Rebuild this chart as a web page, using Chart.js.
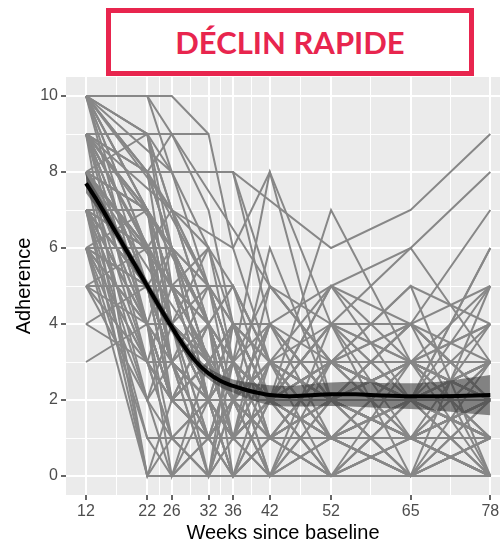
<!DOCTYPE html>
<html>
<head>
<meta charset="utf-8">
<script src="https://cdn.jsdelivr.net/npm/chart.js@4"></script>
<style>
  body { margin: 0; background: #fff; }
  #wrap { position: relative; width: 500px; height: 543px; }
  #banner {
    position: absolute; left: 106px; top: 8px; width: 358px; height: 58px;
    border: 5px solid #e8254e; color: #e8254e;
    font-family: Lato, sans-serif; font-weight: bold; font-size: 31px;
    display: flex; align-items: center; justify-content: center; background: #fff;
  }
</style>
</head>
<body>
<div id="wrap">
  <canvas id="chart" width="500" height="543"></canvas>
  <div id="banner">DÉCLIN RAPIDE</div>
</div>
<script>
// visit weeks and axis breaks
const weeks = [12, 22, 26, 32, 36, 42, 52, 65, 78];
const xMajorTicks = [12, 22, 26, 32, 36, 42, 52, 65, 78];
const xMinorTicks = [17, 24, 29, 34, 39, 47, 58.5, 71.5];
const yMajorTicks = [0, 2, 4, 6, 8, 10];
const yMinorTicks = [1, 3, 5, 7, 9];

// one row per participant, values at each visit week (null = missed visit)
const subjectValues = [
  [10, null, 10, 9, null, null, null, null, null],
  [10, 8, null, 5, 3, 2, 2, 1, 0],
  [10, 6, 4, 3, 2, 3, 2, 2, 1],
  [10, null, 8, 8, 8, 4, 2, null, null],
  [10, 10, null, null, 3, 2, 1, 0, 0],
  [9, 7, 5, 4, 2, 2, 3, 2, 2],
  [9, 9, null, 9, 6, 3, 2, 1, 1],
  [9, 5, 3, 2, 1, 2, 0, 1, 0],
  [9, 8, 9, null, null, 5, 3, 2, 3],
  [9, 6, 6, 2, 4, 2, 2, 3, 2],
  [9, 4, 2, 1, 0, 0, 1, 0, 0],
  [8, 8, 8, null, 8, 5, 4, 4, 2],
  [8, 6, 4, 3, 2, 1, 2, 2, 3],
  [8, 5, 3, 0, 2, 1, 0, 0, 0],
  [8, 7, 5, 3, 3, 2, 2, 2, 2],
  [8, 3, 2, 2, 1, 3, 1, 2, 1],
  [8, 0, 0, 0, 0, 0, 0, 0, 0],
  [8, 6, 5, 4, 3, 2, 3, 1, 2],
  [8, 4, 6, 2, 3, 4, 2, 3, 4],
  [8, 7, 4, 5, 2, 3, 2, 1, 1],
  [7, 5, 4, 2, 2, 1, 2, 2, 1],
  [7, 4, 3, 1, 2, 3, 3, 2, 2],
  [7, 6, 3, 2, 3, 2, 1, 1, 2],
  [7, 1, 1, 1, 1, 1, 1, 1, 1],
  [7, 5, 2, 4, 1, 2, 4, 3, 2],
  [7, 3, 5, 3, 2, 0, 2, 0, 0],
  [7, 7, 6, 4, 5, 3, 2, 4, 3],
  [6, 4, 2, 3, 1, 2, 2, 1, 2],
  [6, 0, 2, 1, 0, 1, 0, 2, 0],
  [6, 5, 4, 3, 4, 2, 3, 2, 5],
  [6, 3, 3, 2, 2, 4, 1, 3, 1],
  [6, 2, 1, 0, 1, 0, 1, 0, 1],
  [5, 4, 2, 2, 3, 2, 2, 4, 2],
  [5, 5, 3, 1, 2, 3, 0, 1, 0],
  [5, 3, 1, 2, 0, 1, 2, 1, 3],
  [4, 5, 3, 2, 2, 1, 2, 2, 2],
  [3, 4, 2, 3, 1, 2, 1, 2, 1],
  [9, null, 7, null, 6, 8, 2, null, null],
  [8, null, null, null, 8, null, 6, 7, 9],
  [10, 8, 7, 5, 3, 8, 4, 2, 1],
  [9, 6, 4, 2, 1, 2, 7, 3, 1],
  [7, 5, 3, 2, 3, 2, 4, 6, 8],
  [8, 4, 2, 3, 2, 1, 3, 4, 7],
  [6, 3, 2, 2, 1, 2, 1, 2, 6],
  [9, 7, 4, 3, 4, 3, 5, 3, 5],
  [10, 9, 6, 4, 3, 2, 5, 6, 3],
  [7, 6, 4, 3, 2, 6, 2, 1, 0],
  [8, 5, 4, 6, 3, 2, 3, 5, 4],
  [9, 5, 3, 4, 5, 2, 2, 3, 2],
  [5, 2, 0, 1, 2, 3, 1, 0, 1],
  [10, 7, 5, 4, 2, 3, 2, 3, 2],
  [6, 6, 4, 2, 4, 3, 2, 2, 3],
  [9, 8, 6, 5, 3, 2, 1, 2, 2],
  [8, 6, 3, 5, 4, 3, 2, 0, 2],
  [7, 4, 4, 0, 1, 2, 3, 2, 1],
  [10, 5, 2, 1, 2, 0, 0, 1, 0],
  [7, 2, 3, 2, 0, 1, 0, 0, 1],
  [6, 5, 6, 4, 3, 5, 3, 4, 2],
  [9, 6, 5, 6, 4, 2, 1, 3, 3],
  [8, 7, 6, 3, 2, 4, 2, 2, 1],
  [5, 5, 5, 5, 5, 3, 2, 1, 2],
  [9, 0, 1, 0, 2, 0, 1, 0, 0],
  [7, 0, 0, 1, 0, 2, 0, 1, 0],
  [8, 6, 5, null, null, null, null, null, null],
  [10, 9, 7, 6, null, null, null, null, null],
  [9, 3, 2, 4, 0, 1, 3, 5, 0],
  [8, 2, 4, 1, 3, 0, 4, 0, 5],
  [10, 4, 0, 3, 1, 4, 5, 4, 0],
  [7, 3, 1, 0, 4, 1, 0, 3, 4],
  [6, 1, 0, 2, 1, 5, 3, 1, 0],
  [10, null, 7, 5, 4, 3, 2, 2, 1],
  [10, null, null, 4, 2, 3, 1, 2, 0],
  [9, null, 6, 3, 2, 1, 3, 2, 2],
  [9, null, null, null, 2, 4, 2, 3, 1],
  [8, null, 5, 2, 1, 2, 1, 0, 1],
  [8, null, null, 3, 4, 2, 2, 1, 2],
  [10, 9, 5, 2, 3, 2, 4, 2, 3],
  [9, 8, 4, 3, 1, 3, 2, 4, 2],
  [8, 7, 3, 1, 2, 2, 3, 1, 1],
  [7, 6, 5, 2, 0, 3, 2, 2, 4],
  [10, 8, 6, 3, 4, 1, 2, 3, 2],
  [9, 7, 6, 4, 2, 3, 4, 1, 3],
  [8, 8, 6, 5, 4, 4, 3, 3, 2],
  [7, 5, 5, 3, 3, 1, 0, 2, 1],
  [6, 4, 3, 4, 2, 2, 1, 2, 3],
  [9, 4, 1, 2, 3, 2, 1, 1, 0],
  [10, 6, 3, 2, 0, 2, 2, 0, 2],
  [8, 5, 2, 3, 1, 0, 3, 2, 0],
  [7, 6, 2, 1, 3, 2, 5, 2, 1],
  [9, 9, 8, 6, 5, 3, 3, 2, 1],
  [10, 10, 9, 7, 4, 2, 1, 1, 2],
  [6, 7, 5, 4, 2, 3, 2, 0, 3],
  [5, 6, 4, 3, 1, 2, 3, 3, 2],
  [4, 3, 2, 1, 2, 1, 2, 1, 2],
  [8, 6, 7, 4, 3, 1, 2, 4, 5],
  [9, 5, 4, 2, 2, 3, 3, 2, 6],
  [7, 4, 2, 2, 1, 4, 2, 3, 3],
  [10, 7, 4, 1, 1, 2, 0, 2, 1],
  [8, 9, 7, 4, 2, 2, 4, 3, 0],
  [6, 5, 3, 0, 3, 0, 2, 1, 4]
];

// loess fit and its confidence band
const smoothWeeks = [12, 14, 16, 18, 20, 22, 24, 26, 28, 30, 32, 34, 36, 38, 40, 42, 45, 48, 52, 56, 60, 65, 70, 74, 78];
const smoothFit = [7.7, 7.2, 6.65, 6.1, 5.55, 5.0, 4.45, 3.92, 3.42, 3.0, 2.7, 2.5, 2.37, 2.27, 2.19, 2.13, 2.1, 2.12, 2.15, 2.15, 2.12, 2.1, 2.1, 2.11, 2.13];
const smoothLow = [7.45, 7.0, 6.48, 5.95, 5.4, 4.85, 4.3, 3.77, 3.27, 2.85, 2.55, 2.33, 2.2, 2.06, 1.95, 1.87, 1.83, 1.83, 1.84, 1.82, 1.79, 1.76, 1.71, 1.65, 1.6];
const smoothHigh = [7.95, 7.4, 6.82, 6.25, 5.7, 5.15, 4.6, 4.07, 3.57, 3.15, 2.85, 2.67, 2.54, 2.48, 2.43, 2.39, 2.37, 2.41, 2.46, 2.48, 2.45, 2.44, 2.49, 2.57, 2.66];

function toPoints(xs, ys) {
    return xs.map((x, i) => ({ x: x, y: ys[i] }));
}

const datasets = [
    {
        data: toPoints(smoothWeeks, smoothFit),
        borderColor: '#000', borderWidth: 4, pointRadius: 0,
        cubicInterpolationMode: 'monotone', order: -3
    },
    {
        data: toPoints(smoothWeeks, smoothHigh),
        borderWidth: 0, pointRadius: 0, fill: '+1',
        backgroundColor: 'rgba(60,60,60,0.6)', cubicInterpolationMode: 'monotone', order: -2
    },
    {
        data: toPoints(smoothWeeks, smoothLow),
        borderWidth: 0, pointRadius: 0, fill: false, cubicInterpolationMode: 'monotone', order: -1
    }
];

subjectValues.forEach(row => {
    datasets.push({
        data: toPoints(weeks, row),
        borderColor: '#878787', borderWidth: 2, pointRadius: 0,
        spanGaps: true, tension: 0, order: 0
    });
});

// grey panel like ggplot's theme_grey
const panelBg = {
    id: 'panelBg',
    beforeDraw(chart) {
        const a = chart.chartArea;
        chart.ctx.save();
        chart.ctx.fillStyle = '#ebebeb';
        chart.ctx.fillRect(a.left, a.top, a.right - a.left, a.bottom - a.top);
        chart.ctx.restore();
    }
};

const tickFont = { family: 'Liberation Sans, Arial, sans-serif', size: 16 };
const titleFont = { family: 'Liberation Sans, Arial, sans-serif', size: 20, lineHeight: 1 };

new Chart(document.getElementById('chart'), {
    type: 'line',
    data: { datasets: datasets },
    plugins: [panelBg],
    options: {
        responsive: false,
        animation: false,
        events: [],
        layout: { padding: { top: 77, left: 0, right: 0, bottom: 0 } },
        plugins: { legend: { display: false }, tooltip: { enabled: false } },
        scales: {
            x: {
                type: 'linear',
                min: 8.735, max: 79.58,
                afterBuildTicks: s => { s.ticks = xMajorTicks.concat(xMinorTicks).map(v => ({ value: v })); },
                afterFit: s => { s.height = 48; },
                ticks: {
                    autoSkip: false, maxRotation: 0, padding: 2,
                    font: tickFont, color: '#4d4d4d',
                    callback: v => xMajorTicks.includes(v) ? String(v) : ''
                },
                grid: {
                    color: '#ffffff',
                    lineWidth: c => xMajorTicks.includes(c.tick.value) ? 2 : 1,
                    tickColor: c => xMajorTicks.includes(c.tick.value) ? '#333333' : 'rgba(0,0,0,0)',
                    tickWidth: 1.5, tickLength: 5
                },
                border: { display: false },
                title: { display: true, text: 'Weeks since baseline', font: titleFont, color: '#000', padding: { top: 0, bottom: 0 } }
            },
            y: {
                min: -0.5, max: 10.5,
                afterBuildTicks: s => { s.ticks = yMajorTicks.concat(yMinorTicks).map(v => ({ value: v })); },
                afterFit: s => { s.width = 66; },
                ticks: {
                    autoSkip: false, padding: 3,
                    font: tickFont, color: '#4d4d4d',
                    callback: v => yMajorTicks.includes(v) ? String(v) : ''
                },
                grid: {
                    color: '#ffffff',
                    lineWidth: c => yMajorTicks.includes(c.tick.value) ? 2 : 1,
                    tickColor: c => yMajorTicks.includes(c.tick.value) ? '#333333' : 'rgba(0,0,0,0)',
                    tickWidth: 1.5, tickLength: 5
                },
                border: { display: false },
                title: { display: true, text: 'Adherence', font: titleFont, color: '#000', padding: { top: 14, bottom: 0 } }
            }
        }
    }
});
</script>
</body>
</html>
